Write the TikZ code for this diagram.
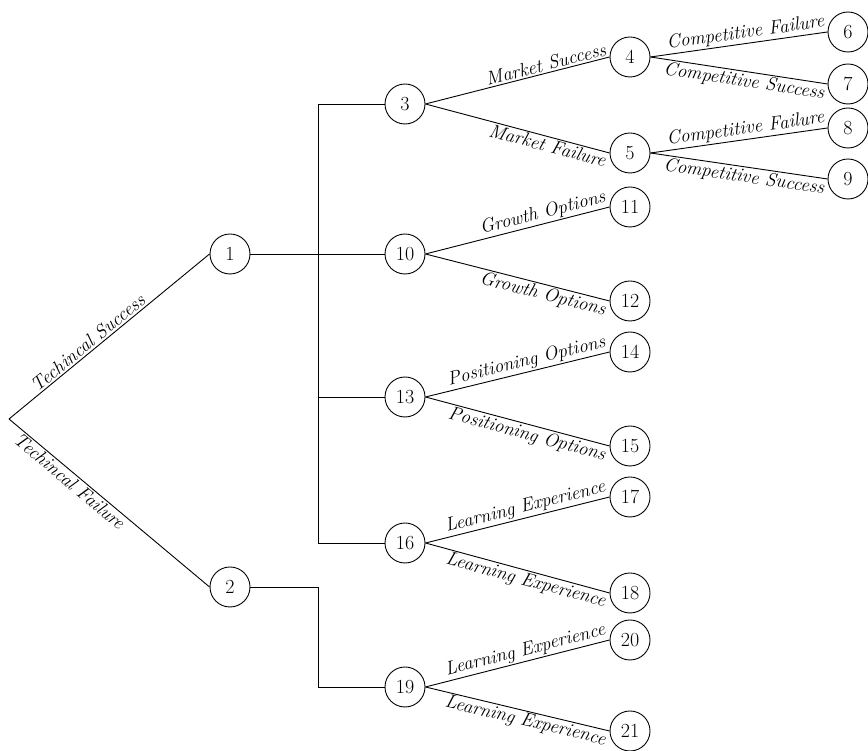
\documentclass[tikz,border=0pt]{standalone}
\begin{document}
\begin{tikzpicture}[x=1pt,y=1pt,
  every path/.style={line width=0.9pt},
  chance/.style={draw,circle,minimum size=40pt,inner sep=0pt,font=\fontsize{20}{20}\selectfont},
  lab/.style={font=\fontsize{19}{19}\selectfont\itshape,sloped,inner sep=1.5pt},
  up/.style={lab,pos=1,anchor=south east},
  dn/.style={lab,pos=1,anchor=north east}]
\useasboundingbox (0,0) rectangle (868,751);
\coordinate (R) at (9,332);
\node[chance] (n1) at (230,497) {1};
\node[chance] (n2) at (230,164) {2};
\node[chance] (n3) at (405,647) {3};
\node[chance] (n10) at (405,497) {10};
\node[chance] (n13) at (405,354) {13};
\node[chance] (n16) at (405,208) {16};
\node[chance] (n19) at (405,64) {19};
\node[chance] (n4) at (630,694) {4};
\node[chance] (n5) at (630,598) {5};
\node[chance] (n6) at (848,719) {6};
\node[chance] (n7) at (848,667) {7};
\node[chance] (n8) at (848,623) {8};
\node[chance] (n9) at (848,572) {9};
\node[chance] (n11) at (630,544) {11};
\node[chance] (n12) at (630,450) {12};
\node[chance] (n14) at (630,399) {14};
\node[chance] (n15) at (630,305) {15};
\node[chance] (n17) at (630,254) {17};
\node[chance] (n18) at (630,158) {18};
\node[chance] (n20) at (630,111) {20};
\node[chance] (n21) at (630,20) {21};
\coordinate (bbot) at (318,208);
\coordinate (btop) at (318,647);
\coordinate (k19) at (318,64);
% root
\draw (R) -- node[lab,pos=0.42,above] {Techincal Success} (n1.west);
\draw (R) -- node[lab,pos=0.33,below] {Techincal Failure} (n2.west);
% bar
\draw (n1.east) -- (n10.west);
\draw (n3.west) -| (bbot) -- (n16.west);
\draw (n13.west) -- (n13.west -| btop);
\draw (n2.east) -| (k19) -- (n19.west);
% branches
\draw (n3.east) -- node[up] {Market Success} (n4.west);
\draw (n3.east) -- node[dn] {Market Failure} (n5.west);
\draw (n4.east) -- node[up] {Competitive Failure} (n6.west);
\draw (n4.east) -- node[dn] {Competitive Success} (n7.west);
\draw (n5.east) -- node[up] {Competitive Failure} (n8.west);
\draw (n5.east) -- node[dn] {Competitive Success} (n9.west);
\draw (n10.east) -- node[up] {Growth Options} (n11.west);
\draw (n10.east) -- node[dn] {Growth Options} (n12.west);
\draw (n13.east) -- node[up] {Positioning Options} (n14.west);
\draw (n13.east) -- node[dn] {Positioning Options} (n15.west);
\draw (n16.east) -- node[up] {Learning Experience} (n17.west);
\draw (n16.east) -- node[dn] {Learning Experience} (n18.west);
\draw (n19.east) -- node[up] {Learning Experience} (n20.west);
\draw (n19.east) -- node[dn] {Learning Experience} (n21.west);
\end{tikzpicture}
\end{document}
